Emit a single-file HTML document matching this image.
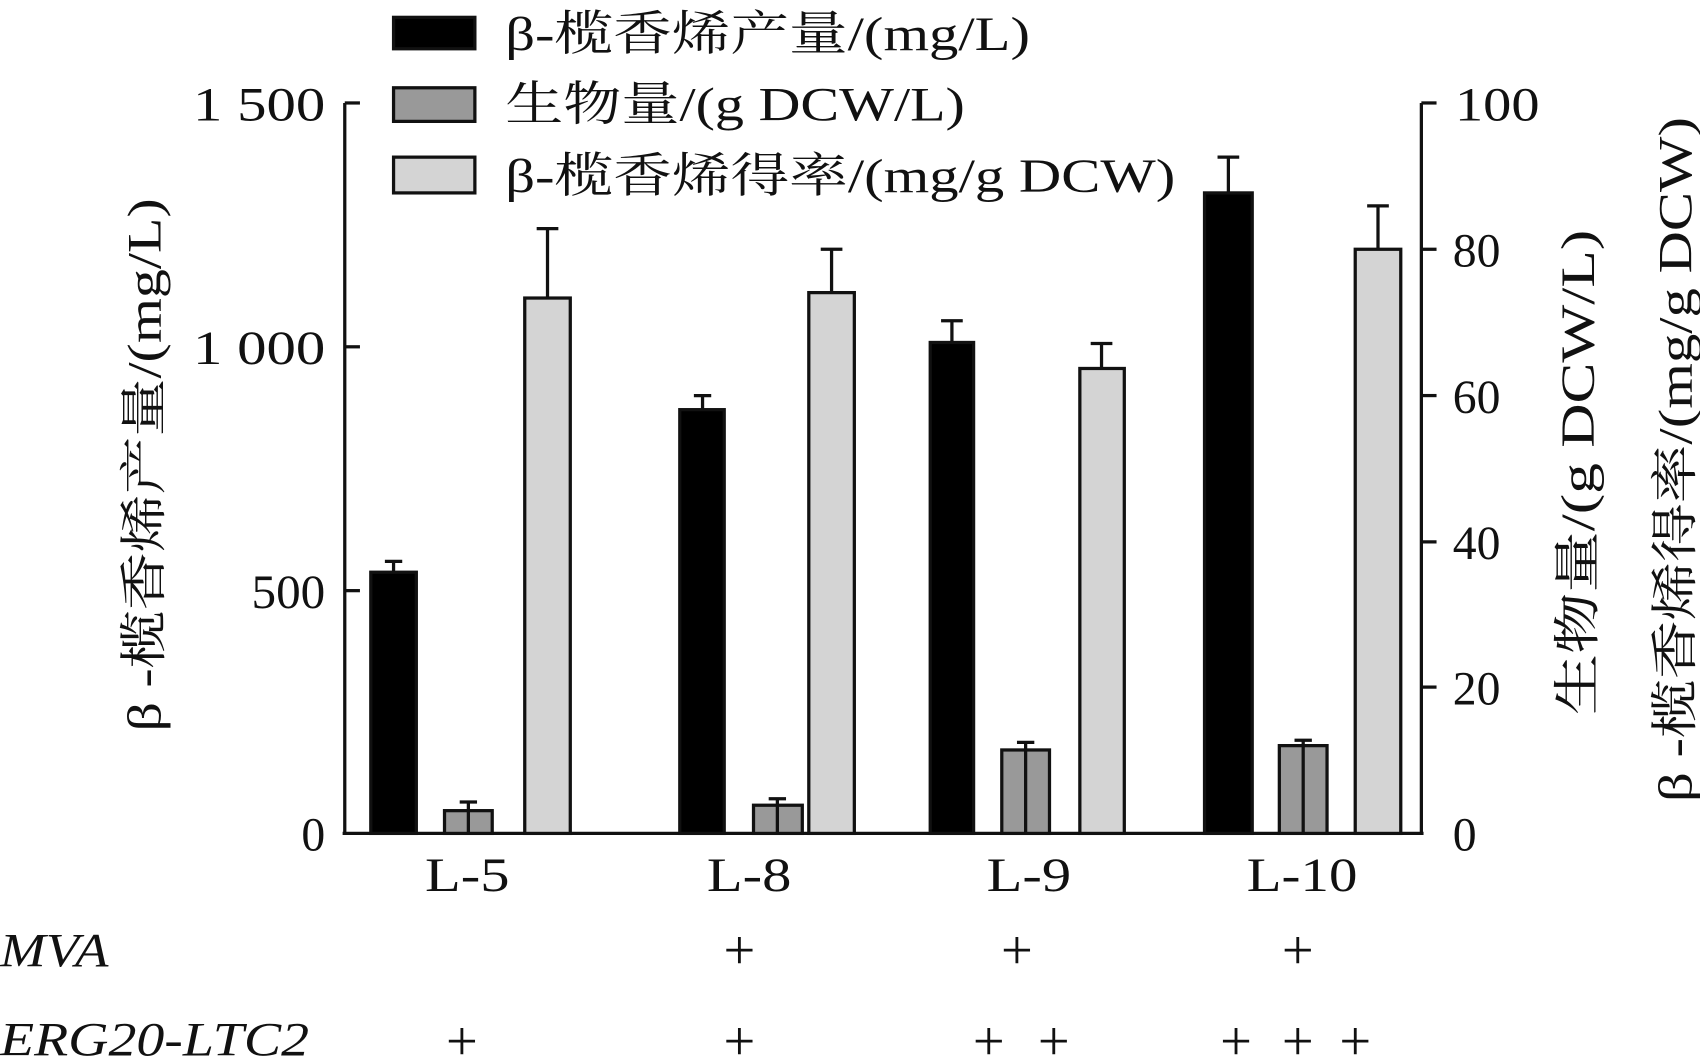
<!DOCTYPE html>
<html><head><meta charset="utf-8"><style>
html,body{margin:0;padding:0;background:#fff;}
svg{display:block;}
text{font-family:"Liberation Serif","Noto Serif CJK SC",serif;fill:#111;}
</style></head><body>
<svg width="1700" height="1061" viewBox="0 0 1568 979" preserveAspectRatio="none" xmlns="http://www.w3.org/2000/svg">
<g stroke="#111" stroke-width="3" fill="none">
<line x1="318" y1="95" x2="318" y2="770"/>
<line x1="1311" y1="95" x2="1311" y2="770"/>
<line x1="316" y1="769" x2="1313" y2="769"/>
<line x1="318" y1="95" x2="332" y2="95"/><line x1="318" y1="320" x2="332" y2="320"/><line x1="318" y1="545" x2="332" y2="545"/>
<line x1="1311" y1="95" x2="1325" y2="95"/><line x1="1311" y1="230" x2="1325" y2="230"/><line x1="1311" y1="365" x2="1325" y2="365"/><line x1="1311" y1="500" x2="1325" y2="500"/><line x1="1311" y1="634" x2="1325" y2="634"/>
</g>
<g font-size="44">
<text x="178" y="111" textLength="122" lengthAdjust="spacingAndGlyphs">1 500</text>
<text x="178" y="336" textLength="122" lengthAdjust="spacingAndGlyphs">1 000</text>
<text x="232" y="561" textLength="68" lengthAdjust="spacingAndGlyphs">500</text>
<text x="300" y="785" text-anchor="end">0</text>
<text x="1342" y="111" textLength="78" lengthAdjust="spacingAndGlyphs">100</text>
<text x="1340" y="246">80</text>
<text x="1340" y="381">60</text>
<text x="1340" y="516">40</text>
<text x="1340" y="650">20</text>
<text x="1340" y="785">0</text>
<text x="392" y="822" textLength="78" lengthAdjust="spacingAndGlyphs">L-5</text>
<text x="652" y="822" textLength="78" lengthAdjust="spacingAndGlyphs">L-8</text>
<text x="910" y="822" textLength="78" lengthAdjust="spacingAndGlyphs">L-9</text>
<text x="1150" y="822" textLength="102" lengthAdjust="spacingAndGlyphs">L-10</text>
<text x="0" y="892" font-style="italic" textLength="100" lengthAdjust="spacingAndGlyphs">MVA</text>
<text x="0" y="974" font-style="italic" textLength="285" lengthAdjust="spacingAndGlyphs">ERG20-LTC2</text>
</g>
<g font-size="52">
<text x="682" y="894" text-anchor="middle">+</text><text x="938" y="894" text-anchor="middle">+</text><text x="1197" y="894" text-anchor="middle">+</text>
<text x="426" y="978" text-anchor="middle">+</text><text x="682" y="978" text-anchor="middle">+</text><text x="912" y="978" text-anchor="middle">+</text><text x="972" y="978" text-anchor="middle">+</text><text x="1140" y="978" text-anchor="middle">+</text><text x="1197" y="978" text-anchor="middle">+</text><text x="1250" y="978" text-anchor="middle">+</text>
</g>
<g font-size="44">
<text transform="translate(148,675) rotate(-90)" textLength="492" lengthAdjust="spacingAndGlyphs">β -榄香烯产量/(mg/L)</text>
<text transform="translate(1470,660) rotate(-90)" textLength="448" lengthAdjust="spacingAndGlyphs">生物量/(g DCW/L)</text>
<text transform="translate(1560,740) rotate(-90)" textLength="632" lengthAdjust="spacingAndGlyphs">β -榄香烯得率/(mg/g DCW)</text>
<text x="466" y="46" textLength="484" lengthAdjust="spacingAndGlyphs">β-榄香烯产量/(mg/L)</text>
<text x="466" y="111" textLength="424" lengthAdjust="spacingAndGlyphs">生物量/(g DCW/L)</text>
<text x="466" y="177" textLength="618" lengthAdjust="spacingAndGlyphs">β-榄香烯得率/(mg/g DCW)</text>
</g>
<g stroke="#111" stroke-width="3">
<rect x="363" y="16" width="75" height="29" fill="#000"/>
<rect x="363" y="81" width="75" height="31" fill="#999"/>
<rect x="363" y="145" width="75" height="33" fill="#d4d4d4"/>
</g>
<g stroke="#111" stroke-width="3">
<path d="M363 528V518M355 518H371"/>
<path d="M432 748V740M424 740H440"/>
<path d="M505 275V211M495 211H515"/>
<path d="M648 378V365M640 365H656"/>
<path d="M717 743V737M709 737H725"/>
<path d="M767 270V230M757 230H777"/>
<path d="M878 316V296M868 296H888"/>
<path d="M946 692V685M938 685H954"/>
<path d="M1016 340V317M1006 317H1026"/>
<path d="M1133 178V145M1123 145H1143"/>
<path d="M1202 688V683M1194 683H1210"/>
<path d="M1271 230V190M1261 190H1281"/>
</g>
<g stroke="#111" stroke-width="3">
<rect x="342" y="528" width="42" height="241" fill="#000"/>
<rect x="410" y="748" width="44" height="21" fill="#999"/>
<rect x="484" y="275" width="42" height="494" fill="#d4d4d4"/>
<rect x="627" y="378" width="41" height="391" fill="#000"/>
<rect x="695" y="743" width="45" height="26" fill="#999"/>
<rect x="746" y="270" width="42" height="499" fill="#d4d4d4"/>
<rect x="858" y="316" width="40" height="453" fill="#000"/>
<rect x="924" y="692" width="44" height="77" fill="#999"/>
<rect x="996" y="340" width="41" height="429" fill="#d4d4d4"/>
<rect x="1111" y="178" width="44" height="591" fill="#000"/>
<rect x="1180" y="688" width="44" height="81" fill="#999"/>
<rect x="1250" y="230" width="42" height="539" fill="#d4d4d4"/>
<path d="M432 748V769M717 743V769M946 692V769M1202 688V769"/>
</g>
</svg>
</body></html>
